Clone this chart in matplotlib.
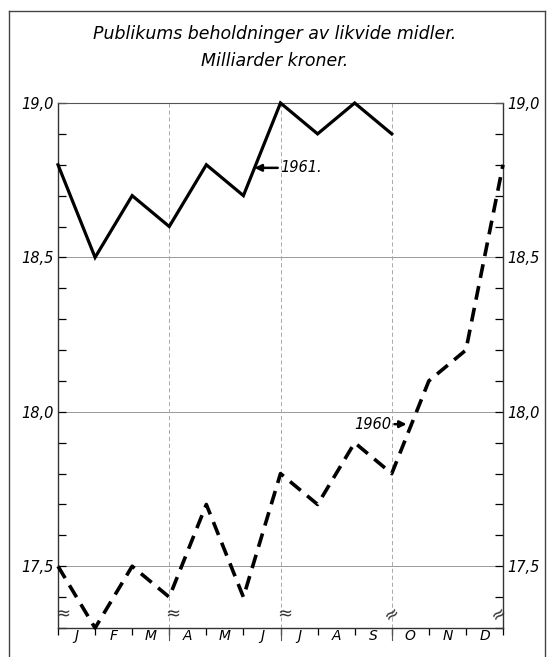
import matplotlib.pyplot as plt
from matplotlib.lines import Line2D

plt.rcParams['font.family'] = 'DejaVu Sans'
plt.rcParams['lines.scale_dashes'] = False

# data (milliarder kroner), month index 0 = January
months = ['J', 'F', 'M', 'A', 'M', 'J', 'J', 'A', 'S', 'O', 'N', 'D']
v1961 = [18.8, 18.5, 18.7, 18.6, 18.8, 18.7, 19.0, 18.9, 19.0, 18.9]
v1960 = [17.5, 17.3, 17.5, 17.4, 17.7, 17.4, 17.8, 17.7, 17.9, 17.8, 18.1, 18.2, 18.8]
yticks_major = [17.5, 18.0, 18.5, 19.0]
ytick_labels = ['17,5', '18,0', '18,5', '19,0']

fig = plt.figure(figsize=(5.49, 6.57), dpi=100)
ax = fig.add_axes([58/549, 29/657, 445/549, 525/657])

ax.set_xlim(0, 12)
ax.set_ylim(17.3, 19.0)

# grid
for y in [17.5, 18.0, 18.5]:
    ax.axhline(y, color='#999999', lw=0.7, zorder=1)
for x in [3, 6, 9]:
    ax.axvline(x, color='#aaaaaa', lw=0.7, ls=(0, (3, 2)), zorder=1)
    ax.plot([x, x], [17.3, 17.26], color='#555555', lw=0.8, clip_on=False)

ax.plot(range(len(v1961)), v1961, color='black', lw=2.3, solid_joinstyle='miter',
        clip_on=False, zorder=3)
ax.plot(range(len(v1960)), v1960, color='black', lw=2.6, dashes=(10, 6),
        dash_capstyle='butt', clip_on=False, zorder=3)

# spines
for s in ['left', 'right', 'bottom']:
    ax.spines[s].set_linewidth(1.0)
    ax.spines[s].set_color('#333333')
ax.spines['top'].set_linewidth(0.8)
ax.spines['top'].set_color('#555555')

# y ticks
yminor = [round(17.3 + 0.1 * i, 1) for i in range(18)]
ax.set_yticks(yticks_major)
ax.set_yticklabels(ytick_labels, fontsize=10.5, style='italic')
ax.set_yticks(yminor, minor=True)
ax.tick_params(axis='y', which='both', direction='in', length=6, width=0.9,
               left=True, right=True, labelleft=True, labelright=True, pad=3)

# x ticks
ax.set_xticks(range(13))
ax.set_xticklabels([])
ax.set_xticks([i + 0.5 for i in range(12)], minor=True)
ax.set_xticklabels(months, minor=True, fontsize=10, style='italic')
ax.tick_params(axis='x', which='major', direction='out', length=5, width=0.9)
ax.tick_params(axis='x', which='minor', length=0, pad=1)

# break marks
for x in [0.12, 3.1, 6.1]:
    ax.text(x, 17.345, '≈', fontsize=13, ha='center', va='center', color='#333333')
for x in [9.0, 11.9]:
    ax.text(x, 17.345, '≈', fontsize=13, ha='center', va='center', color='#333333',
            rotation=35)

# series labels
ax.annotate('1961.', xy=(5.3, 18.79), xytext=(6.0, 18.79), fontsize=10.5, style='italic',
            va='center', ha='left',
            arrowprops=dict(arrowstyle='-|>', color='black', lw=1.8, mutation_scale=10,
                            shrinkA=0, shrinkB=0))
ax.annotate('1960', xy=(9.4, 17.96), xytext=(8.0, 17.96), fontsize=10.5, style='italic',
            va='center', ha='left',
            arrowprops=dict(arrowstyle='-|>', color='black', lw=1.8, mutation_scale=10,
                            shrinkA=0, shrinkB=0))

fig.text(0.5, 1 - 34/657, 'Publikums beholdninger av likvide midler.', ha='center',
         va='center', fontsize=12.5, style='italic')
fig.text(0.5, 1 - 61/657, 'Milliarder kroner.', ha='center', va='center', fontsize=12.5,
         style='italic')

# outer frame
W, H = 549, 657
for (x0, y0, x1, y1) in [(9, 11, 545, 11), (9, 11, 9, 657), (545, 11, 545, 657)]:
    fig.add_artist(Line2D([x0 / W, x1 / W], [1 - y0 / H, 1 - y1 / H], color='#444444',
                          lw=1.0, transform=fig.transFigure))

fig.savefig('out.png', dpi=100)
